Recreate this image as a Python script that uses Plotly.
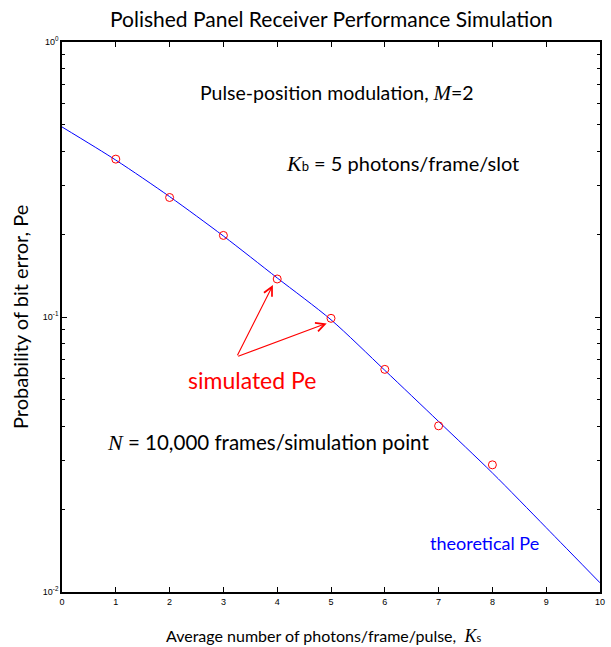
import numpy as np
import plotly.graph_objects as go

# theoretical curve
theo_x = [0, 1, 2, 3, 4, 5, 6, 7, 8, 9, 10]
theo_pe = [0.491, 0.372, 0.274, 0.197, 0.1387, 0.0977, 0.0640, 0.0417, 0.0271, 0.01714, 0.0108]

# simulated points
sim_x = [1, 2, 3, 4, 5, 6, 7, 8]
sim_pe = [0.375, 0.272, 0.198, 0.1375, 0.0989, 0.0645, 0.0402, 0.0290]

x_ticks = list(range(0, 11))
y_ticks = [0.01, 0.1, 1]
y_tick_text = ["10<sup>-2</sup>", "10<sup>-1</sup>", "10<sup>0</sup>"]
y_minor = [m * 10.0 ** e for e in (-2, -1) for m in range(2, 10)]

fig = go.Figure()
fig.add_trace(go.Scatter(x=theo_x, y=theo_pe, mode="lines",
                         line=dict(color="#0000ff", width=1, shape="spline", smoothing=0.8),
                         showlegend=False))
fig.add_trace(go.Scatter(x=sim_x, y=sim_pe, mode="markers",
                         marker=dict(symbol="circle-open", color="#ff0000", size=8, line=dict(width=1)),
                         showlegend=False))

sans = "Lato, 'Open Sans', sans-serif"


def it(letter, size):
    return f"<i><span style='font-family:Liberation Serif;font-size:{size}px'>{letter}</span></i>"


annotations = [
    dict(x=0.5, xref="paper", y=1.0, yref="paper", xshift=0, yshift=24, xanchor="center", yanchor="middle",
         text="Polished Panel Receiver Performance Simulation", showarrow=False,
         font=dict(family=sans, size=21, color="black")),
    dict(x=5.12, y=-0.185, xref="x", yref="y", xanchor="center", yanchor="middle",
         text="Pulse-position modulation, " + it("M", 21) + "=2",
         showarrow=False, font=dict(family=sans, size=19.5, color="black")),
    dict(x=4.13, y=-0.44, xref="x", yref="y", xanchor="left", yanchor="middle",
         text=it("K", 22) + "<span style='font-size:13px'>b</span> = 5 photons/frame/slot",
         showarrow=False, font=dict(family=sans, size=20, color="black")),
    dict(x=2.30, y=-1.229, xref="x", yref="y", xanchor="left", yanchor="middle",
         text="simulated Pe", showarrow=False, font=dict(family=sans, size=23, color="#ff0000")),
    dict(x=0.80, y=-1.455, xref="x", yref="y", xanchor="left", yanchor="middle",
         text=it("N", 22) + " = 10,000 frames/simulation point",
         showarrow=False, font=dict(family=sans, size=20.5, color="black")),
    dict(x=6.80, y=-1.822, xref="x", yref="y", xanchor="left", yanchor="middle",
         text="theoretical Pe", showarrow=False, font=dict(family=sans, size=18, color="#0000ff")),
    dict(x=0.5, y=0, xref="paper", yref="paper", xshift=-8, yshift=-44, xanchor="center", yanchor="middle",
         text="Average number of photons/frame/pulse,  " + it("K", 18) + "<span style='font-size:11px'>s</span>",
         showarrow=False, font=dict(family=sans, size=16, color="black")),
    dict(x=0, y=0.5, xref="paper", yref="paper", xshift=-42, xanchor="center", yanchor="middle",
         textangle=-90, text="Probability of bit error, Pe",
         showarrow=False, font=dict(family=sans, size=20, color="black")),
    dict(x=3.92, y=np.log10(0.1307), ax=3.247, ay=np.log10(0.0717), xref="x", yref="y", axref="x", ayref="y",
         text="", showarrow=True, arrowhead=5, arrowsize=1.6, arrowwidth=1.1, arrowcolor="#ff0000"),
    dict(x=4.92, y=np.log10(0.0948), ax=3.247, ay=np.log10(0.0717), xref="x", yref="y", axref="x", ayref="y",
         text="", showarrow=True, arrowhead=5, arrowsize=1.6, arrowwidth=1.1, arrowcolor="#ff0000"),
]

fig.update_layout(
    width=611, height=647,
    margin=dict(l=62, r=11, t=42, b=55, autoexpand=False),
    paper_bgcolor="white", plot_bgcolor="white",
    annotations=annotations,
)
fig.update_xaxes(
    range=[0, 10], tickvals=x_ticks, ticks="inside", ticklen=5, tickwidth=1, tickcolor="black",
    showline=True, linecolor="black", linewidth=1.5, mirror="allticks", showgrid=False, zeroline=False,
    automargin=False,
    tickfont=dict(family="'Liberation Sans', Arial, sans-serif", size=9, color="black"),
)
fig.update_yaxes(
    type="log", range=[-2, 0], tickvals=y_ticks, ticktext=y_tick_text, ticks="inside", ticklen=5,
    tickwidth=1, tickcolor="black",
    minor=dict(tickvals=y_minor, ticks="inside", ticklen=3, tickcolor="black", showgrid=False),
    showline=True, linecolor="black", linewidth=1.5, mirror="allticks", showgrid=False, zeroline=False,
    automargin=False,
    tickfont=dict(family="'Liberation Sans', Arial, sans-serif", size=9, color="black"),
)

fig.write_html("out.html")
